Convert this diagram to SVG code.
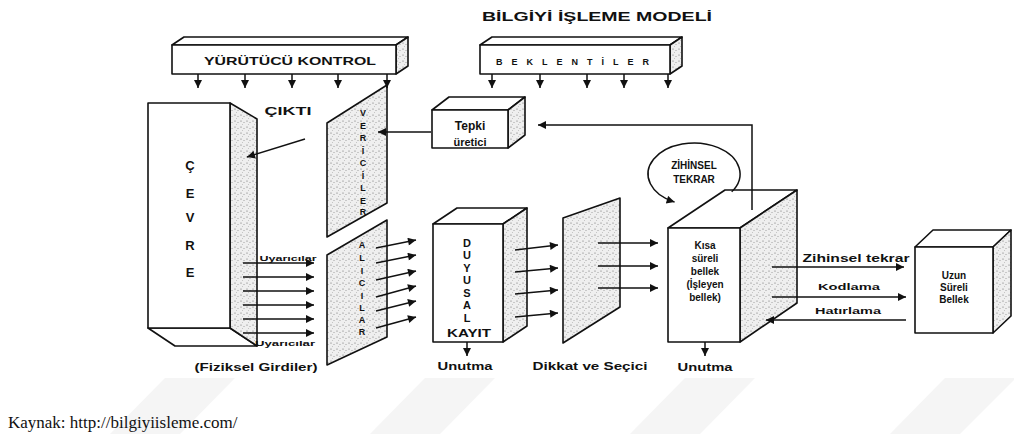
<svg xmlns="http://www.w3.org/2000/svg" width="1014" height="434" viewBox="0 0 1014 434">
<style>
  .ln{stroke:#111;stroke-width:1.5;fill:none}
  .face{fill:#fff;stroke:#111;stroke-width:1.6;stroke-linejoin:round}
  .dot{fill:url(#dots);stroke:#111;stroke-width:1.6;stroke-linejoin:round}
  .t{font-family:"Liberation Sans",Arial,sans-serif;font-weight:bold;fill:#111;text-anchor:middle;dominant-baseline:central}
  .wm{fill:#f5f5f5}
</style>
<defs>
  <pattern id="dots" width="6" height="6" patternUnits="userSpaceOnUse">
    <rect width="6" height="6" fill="#efefef"/>
    <circle cx="1" cy="1" r="0.6" fill="#666"/>
    <circle cx="4" cy="2.5" r="0.5" fill="#888"/>
    <circle cx="2.5" cy="4.5" r="0.45" fill="#999"/>
  </pattern>
  <marker id="ah" viewBox="0 0 10 10" refX="10" refY="5" markerWidth="10" markerHeight="8" markerUnits="userSpaceOnUse" orient="auto">
    <path d="M0,0 L10,5 L0,10 z" fill="#111"/>
  </marker>
</defs>
<rect width="1014" height="434" fill="#fff"/>
<g id="watermark">
  <polygon class="wm" points="110,434 180,434 235,378 165,378"/>
  <polygon class="wm" points="370,434 440,434 495,378 425,378"/>
  <polygon class="wm" points="630,434 700,434 755,378 685,378"/>
  <polygon class="wm" points="890,434 960,434 1014,380 1014,378 945,378"/>
</g>
<text x="597" y="17" class="t" font-size="12" textLength="230" lengthAdjust="spacingAndGlyphs">BİLGİYİ İŞLEME MODELİ</text>

<g id="yurutucu">
  <polygon class="face" points="172,45 184,37 408,37 396,45"/>
  <polygon class="dot" points="396,45 408,37 408,66 396,74"/>
  <rect class="face" x="172" y="45" width="224" height="29"/>
  <text x="290" y="61" class="t" font-size="11" textLength="172" lengthAdjust="spacingAndGlyphs">YÜRÜTÜCÜ KONTROL</text>
</g>
<g id="beklentiler">
  <polygon class="face" points="480,45 492,37 682,37 670,45"/>
  <polygon class="dot" points="670,45 682,37 682,66 670,74"/>
  <rect class="face" x="480" y="45" width="190" height="29"/>
  <text x="576" y="62" class="t" font-size="9" letter-spacing="7" textLength="160" lengthAdjust="spacing">BEKLENTİLER</text>
</g>
<g id="cevre">
  <polygon class="face" points="148,328 230,328 257,346 175,346"/>
  <polygon class="dot" points="230,103 257,119 257,346 230,328"/>
  <rect class="face" x="148" y="103" width="82" height="225"/>
  <text x="190" y="165" class="t" font-size="13">Ç</text>
  <text x="190" y="193" class="t" font-size="13">E</text>
  <text x="190" y="217" class="t" font-size="13">V</text>
  <text x="190" y="245" class="t" font-size="13">R</text>
  <text x="190" y="272" class="t" font-size="13">E</text>
</g>
<text x="288" y="111" class="t" font-size="11" textLength="47" lengthAdjust="spacingAndGlyphs">ÇIKTI</text>
<g id="vericiler">
  <polygon class="dot" points="327,123 387,85 387,203 327,237"/>
  <text x="363" y="113" class="t" font-size="9">V</text>
  <text x="363" y="126" class="t" font-size="9">E</text>
  <text x="363" y="138" class="t" font-size="9">R</text>
  <text x="363" y="151" class="t" font-size="9">İ</text>
  <text x="363" y="163" class="t" font-size="9">C</text>
  <text x="363" y="176" class="t" font-size="9">İ</text>
  <text x="363" y="188" class="t" font-size="9">L</text>
  <text x="363" y="201" class="t" font-size="9">E</text>
  <text x="363" y="212" class="t" font-size="9">R</text>
</g>
<g id="alicilar">
  <polygon class="dot" points="327,255 387,220 387,337 327,365"/>
  <text x="362" y="245" class="t" font-size="9">A</text>
  <text x="362" y="258" class="t" font-size="9">L</text>
  <text x="362" y="271" class="t" font-size="9">I</text>
  <text x="362" y="283" class="t" font-size="9">C</text>
  <text x="362" y="296" class="t" font-size="9">I</text>
  <text x="362" y="308" class="t" font-size="9">L</text>
  <text x="362" y="320" class="t" font-size="9">A</text>
  <text x="362" y="332" class="t" font-size="9">R</text>
</g>
<text x="288" y="258" class="t" font-size="8" textLength="57" lengthAdjust="spacingAndGlyphs">Uyarıcılar</text>
<text x="285" y="343" class="t" font-size="8" textLength="60" lengthAdjust="spacingAndGlyphs">Uyarıcılar</text>
<text x="256" y="367" class="t" font-size="10" font-weight="normal" textLength="123" lengthAdjust="spacingAndGlyphs">(Fiziksel Girdiler)</text>

<g id="tepki">
  <polygon class="face" points="432,110 449,97 525,97 508,110"/>
  <polygon class="dot" points="508,110 525,97 525,135 508,148"/>
  <rect class="face" x="432" y="110" width="76" height="38"/>
  <text x="470" y="126" class="t" font-size="12">Tepki</text>
  <text x="470" y="142" class="t" font-size="11" font-weight="normal">üretici</text>
</g>
<g id="duyusal">
  <polygon class="face" points="433,224 457,208 527,208 503,224"/>
  <polygon class="dot" points="503,224 527,208 527,326 503,342"/>
  <rect class="face" x="433" y="224" width="70" height="118"/>
  <text x="467" y="243" class="t" font-size="11">D</text>
  <text x="467" y="255" class="t" font-size="11">U</text>
  <text x="467" y="268" class="t" font-size="11">Y</text>
  <text x="467" y="280" class="t" font-size="11">U</text>
  <text x="467" y="293" class="t" font-size="11">S</text>
  <text x="467" y="305" class="t" font-size="11">A</text>
  <text x="467" y="318" class="t" font-size="11">L</text>
  <text x="469" y="333" class="t" font-size="10" textLength="44" lengthAdjust="spacingAndGlyphs">KAYIT</text>
</g>
<text x="465" y="366" class="t" font-size="10" font-weight="normal" textLength="55" lengthAdjust="spacingAndGlyphs">Unutma</text>
<g id="dikkat">
  <polygon class="dot" points="563,218 620,198 620,307 563,343"/>
</g>
<text x="590" y="366" class="t" font-size="10" font-weight="normal" textLength="115" lengthAdjust="spacingAndGlyphs">Dikkat ve Seçici</text>

<g id="kisa">
  <polygon class="face" points="668,228 725,190 797,190 740,228"/>
  <polygon class="dot" points="740,228 797,190 797,303 740,342"/>
  <rect class="face" x="668" y="228" width="72" height="114"/>
  <text x="705" y="245" class="t" font-size="10">Kısa</text>
  <text x="705" y="258" class="t" font-size="10">süreli</text>
  <text x="705" y="271" class="t" font-size="10">bellek</text>
  <text x="705" y="284" class="t" font-size="10">(İşleyen</text>
  <text x="705" y="297" class="t" font-size="10">bellek)</text>
</g>
<text x="705" y="367" class="t" font-size="10" font-weight="normal" textLength="55" lengthAdjust="spacingAndGlyphs">Unutma</text>
<g id="zihinsel">
  <text x="694" y="165" class="t" font-size="10">ZİHİNSEL</text>
  <text x="694" y="179" class="t" font-size="10">TEKRAR</text>
</g>
<g id="uzun">
  <polygon class="face" points="915,247 933,230 1011,230 993,247"/>
  <polygon class="dot" points="993,247 1011,230 1011,316 993,333"/>
  <rect class="face" x="915" y="247" width="78" height="86"/>
  <text x="954" y="275" class="t" font-size="10">Uzun</text>
  <text x="954" y="287" class="t" font-size="10">Süreli</text>
  <text x="954" y="299" class="t" font-size="10">Bellek</text>
</g>
<text x="856" y="258" class="t" font-size="10" textLength="107" lengthAdjust="spacingAndGlyphs">Zihinsel tekrar</text>
<text x="849" y="287" class="t" font-size="9" textLength="62" lengthAdjust="spacingAndGlyphs">Kodlama</text>
<text x="848" y="311" class="t" font-size="9" textLength="66" lengthAdjust="spacingAndGlyphs">Hatırlama</text>

<g id="connectors" marker-end="url(#ah)">
  <line class="ln" x1="198" y1="74" x2="198" y2="88"/>
  <line class="ln" x1="245" y1="74" x2="245" y2="88"/>
  <line class="ln" x1="292" y1="74" x2="292" y2="88"/>
  <line class="ln" x1="338" y1="74" x2="338" y2="88"/>
  <line class="ln" x1="387" y1="74" x2="387" y2="88"/>
  <line class="ln" x1="492" y1="74" x2="492" y2="88"/>
  <line class="ln" x1="540" y1="74" x2="540" y2="88"/>
  <line class="ln" x1="587" y1="74" x2="587" y2="88"/>
  <line class="ln" x1="624" y1="74" x2="624" y2="88"/>
  <line class="ln" x1="668" y1="74" x2="668" y2="88"/>
  <line class="ln" x1="305" y1="139" x2="247" y2="157"/>
  <line class="ln" x1="431" y1="132" x2="378" y2="132"/>
  <path class="ln" d="M752,210 L752,125 L538,125"/>
  <line class="ln" x1="243" y1="263" x2="314" y2="263"/>
  <line class="ln" x1="243" y1="277" x2="314" y2="277"/>
  <line class="ln" x1="243" y1="291" x2="314" y2="291"/>
  <line class="ln" x1="243" y1="305" x2="314" y2="305"/>
  <line class="ln" x1="243" y1="319" x2="314" y2="319"/>
  <line class="ln" x1="243" y1="333" x2="314" y2="333"/>
  <line class="ln" x1="376" y1="248" x2="416" y2="240"/>
  <line class="ln" x1="376" y1="263" x2="416" y2="255"/>
  <line class="ln" x1="376" y1="280" x2="416" y2="271"/>
  <line class="ln" x1="376" y1="297" x2="416" y2="286"/>
  <line class="ln" x1="376" y1="311" x2="416" y2="301"/>
  <line class="ln" x1="376" y1="328" x2="416" y2="317"/>
  <line class="ln" x1="515" y1="250" x2="558" y2="245"/>
  <line class="ln" x1="515" y1="272" x2="558" y2="268"/>
  <line class="ln" x1="515" y1="294" x2="558" y2="290"/>
  <line class="ln" x1="515" y1="317" x2="558" y2="313"/>
  <line class="ln" x1="598" y1="243" x2="658" y2="243"/>
  <line class="ln" x1="598" y1="266" x2="658" y2="266"/>
  <line class="ln" x1="598" y1="288" x2="658" y2="288"/>
  <line class="ln" x1="467" y1="342" x2="467" y2="356"/>
  <line class="ln" x1="705" y1="342" x2="705" y2="356"/>
  <line class="ln" x1="772" y1="267" x2="904" y2="267"/>
  <line class="ln" x1="772" y1="297" x2="906" y2="297"/>
  <line class="ln" x1="906" y1="320" x2="766" y2="320"/>
  <path class="ln" stroke-width="2" d="M731.7,191.8 A46 31 0 1 0 674.6,202.1"/>
</g>

<text x="8" y="428" font-family="Liberation Serif,Times New Roman,serif" font-size="17" fill="#111">Kaynak: http://bilgiyiisleme.com/</text>
</svg>
